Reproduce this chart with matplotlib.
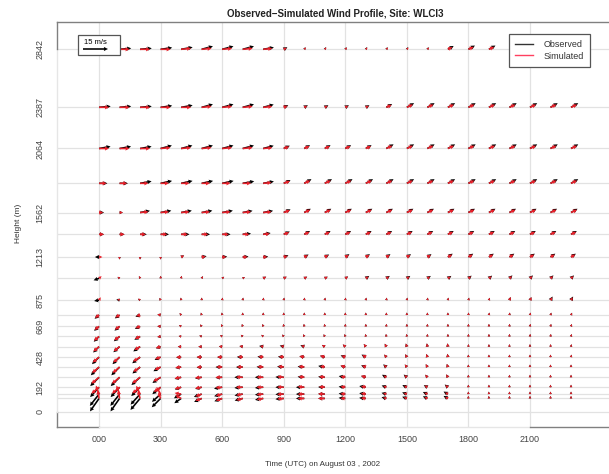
import numpy as np
import matplotlib
matplotlib.use('Agg')
import matplotlib.pyplot as plt
from matplotlib.lines import Line2D
from matplotlib.patches import Rectangle

plt.rcParams['font.family'] = ['Liberation Sans', 'DejaVu Sans']

# ---------------- data ----------------
hours = list(range(24))
levels = [104, 138, 192, 270, 350, 428, 510, 590, 669, 758, 875,
          1046, 1213, 1391, 1562, 1791, 2064, 2387, 2842]
ytick_vals = [0, 192, 428, 669, 875, 1213, 1562, 2064, 2387, 2842]
xtick_vals = [0, 3, 6, 9, 12, 15, 18, 21]
xtick_labels = ['000', '300', '600', '900', '1200', '1500', '1800', '2100']

# observed speed (m/s), rows = levels (bottom -> top), cols = hours 0..23
obs_spd = [
    [9.5, 9.5, 9, 7.5, 5, 5, 5, 5, 5, 5, 5, 4, 4, 4, 3, 3, 3, 3, 1.5, 1.5, 1.5, 1.5, 1.5, 1.5],
    [9, 9, 8.5, 7, 5, 5, 5, 5, 5, 5, 5, 4, 4, 4, 3, 3, 3, 3, 1.5, 1.5, 1.5, 1.5, 1.5, 1.5],
    [8, 8, 7.5, 6.5, 4, 4, 5, 5, 5, 5, 5, 4, 4, 4, 3, 3, 2.5, 2.5, 1.5, 1.5, 1.5, 1.5, 1.5, 1.5],
    [7.5, 7.5, 7, 6, 4, 4, 4, 5, 5, 5, 4, 4, 4, 3, 3, 2.5, 2, 2, 1.5, 1.5, 1.5, 1.5, 1.5, 1.5],
    [7, 7, 6, 5, 3.5, 3, 4, 4, 4, 4, 4, 4, 3, 3, 2.5, 2, 2, 2, 1.5, 1.5, 1.5, 1.5, 1.5, 1.5],
    [6, 6, 6, 4, 3, 3, 3, 3.5, 3.5, 3.5, 3, 3, 3, 3, 2, 2, 2, 2, 1.5, 1.5, 1.5, 1.5, 1.5, 1.5],
    [5, 5, 5, 3, 2, 2, 2, 2, 2.5, 2.5, 2.5, 2, 2, 2, 2, 2, 2, 2, 1.5, 1.5, 1.5, 1.5, 1.5, 1.5],
    [4.5, 4.5, 4, 2, 1.5, 1.5, 1.5, 1.5, 1.5, 1.5, 1.5, 1.5, 1.5, 1.5, 1.5, 1.5, 1.5, 1.5, 1.5, 1.5, 1.5, 1.5, 1.5, 1.5],
    [4, 4, 3.5, 2, 1.5, 1.5, 1.5, 1.5, 1.5, 1.5, 1.5, 1.5, 1.5, 1.5, 1.5, 1.5, 1.5, 1.5, 1.5, 1.5, 1.5, 1.5, 1.5, 1.5],
    [3.5, 3.5, 3, 2, 1.5, 1.5, 1.5, 1.5, 1.5, 1.5, 1.5, 1.5, 1.5, 1.5, 1.5, 1.5, 1.5, 1.5, 1.5, 1.5, 1.5, 1.5, 1.5, 1.5],
    [3, 2, 1.5, 1.5, 1.5, 1.5, 1.5, 1.5, 1.5, 1.5, 1.5, 1.5, 1.5, 1.5, 1.5, 1.5, 1.5, 1.5, 1.5, 1.5, 2, 2, 2.5, 2.5],
    [3.5, 1.5, 1.5, 1.5, 1.5, 1.5, 1.5, 1.5, 2, 2, 2, 2, 2, 2.5, 2.5, 2.5, 2.5, 2.5, 2.5, 2.5, 2.5, 2.5, 2.5, 2.5],
    [2.5, 1.5, 1.5, 1.5, 2, 3, 3, 3.5, 3, 3, 3, 3, 3, 3, 3, 3, 3, 3.5, 3.5, 3.5, 3.5, 3.5, 3.5, 3.5],
    [3, 3, 4, 5, 5, 5, 5, 5, 4.5, 4, 4, 4, 4, 4, 4, 4, 4, 4, 4, 4, 4, 4, 4, 4],
    [3, 2, 6, 6.5, 6.5, 6.5, 6.5, 6, 6, 4.5, 4.5, 4.5, 4.5, 4.5, 4.5, 4.5, 4.5, 4.5, 4.5, 4.5, 4.5, 4.5, 4.5, 4.5],
    [5, 5, 7, 7, 7, 7, 7, 7, 6.5, 4.5, 5, 5, 5, 5, 5, 5, 5, 5, 5, 5, 5, 5, 5, 5],
    [7, 7, 7, 7, 7, 7, 7, 7, 6.5, 4, 4, 4, 4, 4, 5, 5, 5, 5, 5, 5, 5, 5, 5, 5],
    [7, 7, 7, 7, 7, 7, 7, 7, 6.5, 3, 2.5, 2.5, 2.5, 2.5, 4, 5, 5, 5, 5, 5, 5, 5, 5, 5],
    [7, 7, 7, 7, 7, 7, 7, 7, 6.5, 2.5, 1.5, 1.5, 1.5, 1.5, 1.5, 1.5, 1.5, 4, 4.5, 4.5, 4.5, 4.5, 4.5, 4.5],
]
# observed direction the arrow points to (deg, 0 = east, 90 = north)
obs_dir = [
    [235, 235, 230, 225, 215, 205, 200, 195, 190, 185, 180, 180, 175, 175, 165, 160, 155, 150, 95, 95, 90, 90, 90, 90],
    [232, 232, 228, 222, 210, 200, 195, 190, 185, 182, 180, 178, 175, 172, 165, 160, 155, 150, 95, 95, 90, 90, 90, 90],
    [228, 228, 225, 220, 200, 195, 190, 185, 185, 180, 180, 178, 175, 170, 160, 155, 150, 140, 95, 90, 90, 90, 90, 90],
    [225, 225, 222, 215, 195, 190, 185, 180, 180, 178, 175, 175, 170, 165, 150, 140, 130, 120, 95, 90, 90, 90, 90, 90],
    [225, 225, 220, 210, 190, 185, 180, 180, 178, 175, 175, 170, 165, 160, 140, 130, 120, 110, 95, 90, 90, 90, 90, 90],
    [225, 225, 218, 205, 185, 180, 180, 178, 175, 175, 170, 165, 160, 150, 130, 120, 110, 100, 95, 90, 90, 90, 90, 80],
    [225, 222, 215, 200, 180, 180, 175, 170, 170, 165, 160, 150, 140, 130, 120, 110, 100, 100, 90, 90, 90, 90, 85, 80],
    [225, 220, 210, 190, 170, 160, 150, 140, 140, 130, 120, 120, 110, 100, 100, 100, 90, 90, 90, 90, 90, 85, 80, 75],
    [222, 220, 205, 180, 150, 130, 120, 110, 110, 100, 100, 100, 90, 90, 90, 90, 90, 90, 90, 90, 85, 80, 75, 70],
    [220, 215, 200, 170, 130, 110, 100, 90, 90, 90, 90, 90, 90, 90, 90, 90, 90, 90, 85, 80, 80, 75, 70, 65],
    [190, 170, 150, 120, 100, 90, 80, 80, 80, 80, 80, 80, 80, 80, 80, 80, 80, 80, 75, 70, 70, 65, 60, 60],
    [200, 150, 120, 90, 80, 60, 40, 30, 30, 30, 30, 30, 35, 35, 35, 35, 35, 35, 40, 40, 45, 45, 45, 45],
    [180, 270, 270, 270, 30, 10, 5, 5, 5, 20, 30, 30, 35, 35, 35, 35, 35, 35, 35, 35, 35, 35, 35, 35],
    [0, 0, 0, 0, 0, 0, 0, 5, 10, 25, 30, 30, 30, 30, 30, 30, 30, 30, 30, 30, 30, 30, 30, 30],
    [0, 0, 10, 10, 10, 10, 10, 10, 10, 25, 30, 30, 30, 30, 30, 30, 30, 30, 30, 30, 30, 30, 30, 30],
    [0, 0, 10, 12, 12, 12, 12, 10, 10, 25, 30, 30, 30, 30, 30, 30, 30, 30, 30, 30, 30, 30, 30, 30],
    [10, 10, 10, 15, 15, 15, 15, 15, 15, 25, 30, 30, 30, 30, 30, 30, 30, 30, 30, 30, 30, 30, 30, 30],
    [5, 5, 5, 8, 10, 15, 15, 15, 15, 25, 30, 30, 30, 30, 30, 30, 30, 30, 30, 30, 30, 30, 30, 30],
    [5, 5, 5, 8, 10, 15, 15, 15, 10, 30, 60, 60, 60, 60, 60, 60, 60, 30, 30, 30, 30, 30, 30, 30],
]
# simulated speed (m/s)
sim_spd = [
    [5, 5, 5, 4, 4, 4, 4, 4, 4, 4, 4, 4, 3, 3, 2, 2, 2, 2, 1.5, 1.5, 1.5, 1.5, 1.5, 1.5],
    [5.5, 5.5, 5.5, 5, 4, 4, 4, 4, 4, 4, 4, 4, 3, 3, 2, 2, 2, 2, 1.5, 1.5, 1.5, 1.5, 1.5, 1.5],
    [6, 6, 6, 5, 4, 4, 4, 4, 4, 4, 4, 3.5, 3, 3, 2, 2, 2, 2, 1.5, 1.5, 1.5, 1.5, 1.5, 1.5],
    [6, 6, 6, 5, 4, 4, 4, 4, 4, 4, 3.5, 3.5, 3, 3, 2, 2, 2, 2, 1.5, 1.5, 1.5, 1.5, 1.5, 1.5],
    [5.5, 5.5, 5, 4, 3.5, 3, 3.5, 3.5, 3.5, 3.5, 3.5, 3, 3, 2.5, 2, 2, 2, 2, 1.5, 1.5, 1.5, 1.5, 1.5, 1.5],
    [5, 5, 5, 3.5, 3, 3, 3, 3, 3, 3, 3, 3, 2.5, 2.5, 2, 2, 2, 2, 1.5, 1.5, 1.5, 1.5, 1.5, 1.5],
    [4.5, 4.5, 4, 3, 2, 2, 2, 2, 2, 2, 2, 2, 2, 2, 2, 2, 2, 2, 1.5, 1.5, 1.5, 1.5, 1.5, 1.5],
    [4, 4, 3.5, 2, 1.5, 1.5, 1.5, 1.5, 1.5, 1.5, 1.5, 1.5, 1.5, 1.5, 1.5, 1.5, 1.5, 1.5, 1.5, 1.5, 1.5, 1.5, 1.5, 1.5],
    [3.5, 3.5, 3, 2, 1.5, 1.5, 1.5, 1.5, 1.5, 1.5, 1.5, 1.5, 1.5, 1.5, 1.5, 1.5, 1.5, 1.5, 1.5, 1.5, 1.5, 1.5, 1.5, 1.5],
    [3, 3, 2.5, 2, 1.5, 1.5, 1.5, 1.5, 1.5, 1.5, 1.5, 1.5, 1.5, 1.5, 1.5, 1.5, 1.5, 1.5, 1.5, 1.5, 1.5, 1.5, 1.5, 1.5],
    [2, 1.5, 1.5, 1.5, 1.5, 1.5, 1.5, 1.5, 1.5, 1.5, 1.5, 1.5, 1.5, 1.5, 1.5, 1.5, 1.5, 1.5, 1.5, 1.5, 2, 2, 2, 2],
    [2, 1.5, 1.5, 1.5, 1.5, 1.5, 1.5, 1.5, 2, 2, 2, 2, 2, 2, 2, 2, 2, 2, 2, 2, 2, 2, 2, 2],
    [2, 1.5, 1.5, 1.5, 2, 2.5, 2.5, 3, 2.5, 2.5, 2.5, 2.5, 2.5, 2.5, 2.5, 2.5, 2.5, 3, 3, 3, 3, 3, 3, 3],
    [3, 3, 3.5, 4, 4, 4, 4, 4, 4, 3.5, 3.5, 3.5, 3.5, 3.5, 3.5, 3.5, 3.5, 3.5, 3.5, 3.5, 3.5, 3.5, 3.5, 3.5],
    [2.5, 2, 5, 5, 5, 5, 5, 5, 5, 4, 4, 4, 4, 4, 4, 4, 4, 4, 4, 4, 4, 4, 4, 4],
    [4.5, 4.5, 5, 5, 5, 5, 5, 5, 5, 4, 4, 4, 4, 4, 4, 4, 4, 4, 4, 4, 4, 4, 4, 4],
    [6, 6, 6, 6, 6, 6, 6, 6, 5.5, 3.5, 3.5, 3.5, 3.5, 3.5, 4, 4, 4, 4, 4, 4, 4, 4, 4, 4],
    [6, 6, 6, 6, 6, 6, 6, 6, 5.5, 2.5, 2, 2, 2, 2, 3.5, 4, 4, 4, 4, 4, 4, 4, 4, 4],
    [6, 6, 6, 6, 6, 6, 6, 6, 5.5, 2, 1.5, 1.5, 1.5, 1.5, 1.5, 1.5, 1.5, 3, 3.5, 3.5, 3.5, 3.5, 3.5, 3.5],
]
# simulated direction (deg)
sim_dir = [
    [100, 100, 105, 110, 150, 200, 200, 195, 190, 185, 180, 180, 178, 175, 165, 160, 155, 150, 95, 95, 90, 90, 90, 90],
    [110, 110, 115, 120, 170, 200, 195, 190, 185, 182, 180, 178, 175, 172, 165, 160, 155, 150, 95, 95, 90, 90, 90, 90],
    [220, 220, 218, 215, 195, 190, 185, 180, 180, 178, 175, 175, 172, 168, 158, 152, 148, 140, 95, 90, 90, 90, 90, 90],
    [220, 220, 218, 210, 190, 185, 180, 178, 178, 175, 172, 172, 168, 162, 148, 138, 128, 118, 95, 90, 90, 90, 90, 90],
    [220, 220, 215, 205, 185, 180, 178, 178, 175, 172, 172, 168, 162, 158, 138, 128, 118, 108, 95, 90, 90, 90, 90, 90],
    [220, 220, 212, 200, 180, 178, 178, 175, 172, 172, 168, 162, 158, 148, 128, 118, 108, 98, 95, 90, 90, 90, 90, 80],
    [220, 218, 210, 195, 178, 178, 172, 168, 168, 162, 158, 148, 138, 128, 118, 108, 98, 98, 90, 90, 90, 90, 85, 80],
    [220, 215, 205, 185, 168, 158, 148, 138, 138, 128, 118, 118, 108, 98, 98, 98, 90, 90, 90, 90, 90, 85, 80, 75],
    [218, 215, 200, 175, 148, 128, 118, 108, 108, 98, 98, 98, 90, 90, 90, 90, 90, 90, 90, 90, 85, 80, 75, 70],
    [215, 210, 195, 165, 128, 108, 98, 90, 90, 90, 90, 90, 90, 90, 90, 90, 90, 90, 85, 80, 80, 75, 70, 65],
    [60, 150, 140, 115, 95, 85, 78, 78, 78, 78, 78, 78, 78, 78, 78, 78, 78, 78, 72, 68, 68, 62, 58, 58],
    [40, 140, 110, 85, 75, 55, 35, 28, 28, 28, 28, 28, 32, 32, 32, 32, 32, 32, 38, 38, 42, 42, 42, 42],
    [0, 260, 265, 265, 25, 5, 0, 0, 0, 15, 25, 28, 30, 30, 30, 30, 30, 30, 30, 30, 30, 30, 30, 30],
    [0, 0, 0, 0, 0, 0, 0, 0, 5, 20, 25, 25, 25, 25, 25, 25, 25, 25, 25, 25, 25, 25, 25, 25],
    [0, 0, 5, 5, 5, 5, 5, 5, 5, 20, 25, 25, 25, 25, 25, 25, 25, 25, 25, 25, 25, 25, 25, 25],
    [0, 0, 0, 0, 0, 0, 0, 0, 5, 20, 25, 25, 25, 25, 25, 25, 25, 25, 25, 25, 25, 25, 25, 25],
    [0, 0, 0, 5, 5, 5, 5, 5, 5, 20, 25, 25, 25, 25, 25, 25, 25, 25, 25, 25, 25, 25, 25, 25],
    [0, 0, 0, 0, 0, 5, 5, 5, 5, 20, 25, 25, 25, 25, 25, 25, 25, 25, 25, 25, 25, 25, 25, 25],
    [0, 0, 0, 0, 5, 5, 5, 5, 5, 25, 45, 45, 45, 45, 45, 45, 45, 25, 25, 25, 25, 25, 25, 25],
]

# ---------------- figure ----------------
W, H = 609, 474
fig = plt.figure(figsize=(W / 100, H / 100), dpi=100)
ax = fig.add_axes([57 / W, 47 / H, 552 / W, 405 / H])
px_per_hr = 20.52
ax.set_xlim(-2.05, -2.05 + 552 / px_per_hr)
ax.set_ylim(-120, 3056)

grid_c = '#e2e2e2'
for xv in xtick_vals:
    ax.axvline(xv, color=grid_c, lw=0.9, zorder=0)
ax.axhline(0, color=grid_c, lw=0.9, zorder=0)
for lv in levels:
    ax.axhline(lv, color=grid_c, lw=0.9, zorder=0)

X, Y = np.meshgrid(hours, levels)
def uv(spd, d):
    s = np.array(spd, float)
    r = np.deg2rad(np.array(d, float))
    return s * np.cos(r), s * np.sin(r)

ou, ov = uv(obs_spd, obs_dir)
su, sv = uv(sim_spd, sim_dir)

qkw = dict(angles='uv', scale_units='dots', scale=0.6, units='dots',
           width=1.6, headwidth=2.6, headlength=2.6, headaxislength=2.4,
           minshaft=1, minlength=0.8, pivot='tail')
q_obs = ax.quiver(X, Y, ou, ov, color='black', zorder=2, **qkw)
q_sim = ax.quiver(X, Y, su, sv, color='#e8202a', zorder=3, **qkw)

# frame (R style: box with axis segments lightened)
box_c = '#808080'
light_c = '#e6e6e6'
yt = ax.get_yaxis_transform()
xt = ax.get_xaxis_transform()
lw = 1.0
ax.plot([0, 0], [-120, 0], color=box_c, lw=lw, transform=yt, clip_on=False, zorder=5)
ax.plot([0, 0], [0, 2842], color=light_c, lw=lw, transform=yt, clip_on=False, zorder=5)
ax.plot([0, 0], [2842, 3056], color=box_c, lw=lw, transform=yt, clip_on=False, zorder=5)
ax.plot([-2.05, 0], [0, 0], color=box_c, lw=lw, transform=xt, clip_on=False, zorder=5)
ax.plot([0, 21], [0, 0], color=light_c, lw=lw, transform=xt, clip_on=False, zorder=5)
ax.plot([21, 30], [0, 0], color=box_c, lw=lw, transform=xt, clip_on=False, zorder=5)
ax.plot([0, 1], [1, 1], color=box_c, lw=lw, transform=ax.transAxes, clip_on=False, zorder=5)
for s in ax.spines.values():
    s.set_visible(False)

ax.set_xticks(xtick_vals, xtick_labels)
ax.set_yticks(ytick_vals, [str(v) for v in ytick_vals])
ax.tick_params(axis='both', length=0, labelsize=6.5, colors='#444444')
ax.tick_params(axis='x', pad=6)
ax.tick_params(axis='y', pad=9)
for t in ax.get_yticklabels():
    t.set_rotation(90)
    t.set_va('center')

fig.text(335 / W, 1 - 14 / H, 'Observed\u2212Simulated Wind Profile, Site: WLCI3',
         ha='center', va='center', fontsize=7, fontweight='bold', color='#222222')
fig.text(323 / W, 1 - 465 / H, 'Time (UTC) on August 03 , 2002',
         ha='center', va='center', fontsize=5.8, color='#333333')
fig.text(18 / W, 1 - 223 / H, 'Height (m)', rotation=90,
         ha='center', va='center', fontsize=6, color='#333333')

# scale key box (inside axes so it sits above the arrows)
rect = Rectangle((78 / W, 1 - 55 / H), 42 / W, 20 / H, transform=fig.transFigure,
                 facecolor='white', edgecolor='#555555', lw=0.9, zorder=6,
                 clip_on=False)
ax.add_patch(rect)
qk = ax.quiverkey(q_obs, 95.5 / W, 1 - 49 / H, 15, '15 m/s', labelpos='N',
                  coordinates='figure', labelsep=0.03,
                  fontproperties={'size': 5.5})
qk.set_zorder(7)

# legend
handles = [Line2D([], [], color='#333333', lw=1.0),
           Line2D([], [], color='#ff4060', lw=1.0)]
leg = ax.legend(handles, ['Observed', 'Simulated'], loc='upper left',
                bbox_to_anchor=(509 / W, 1 - 34 / H), bbox_transform=fig.transFigure,
                borderaxespad=0, fontsize=6.5, frameon=True, fancybox=False,
                edgecolor='#555555', handlelength=2.0, handletextpad=1.1,
                labelspacing=0.25, borderpad=0.7, framealpha=1)
leg.get_frame().set_linewidth(0.9)
for t in leg.get_texts():
    t.set_color('#333333')
leg.set_zorder(8)

fig.savefig('out.png', dpi=100)
